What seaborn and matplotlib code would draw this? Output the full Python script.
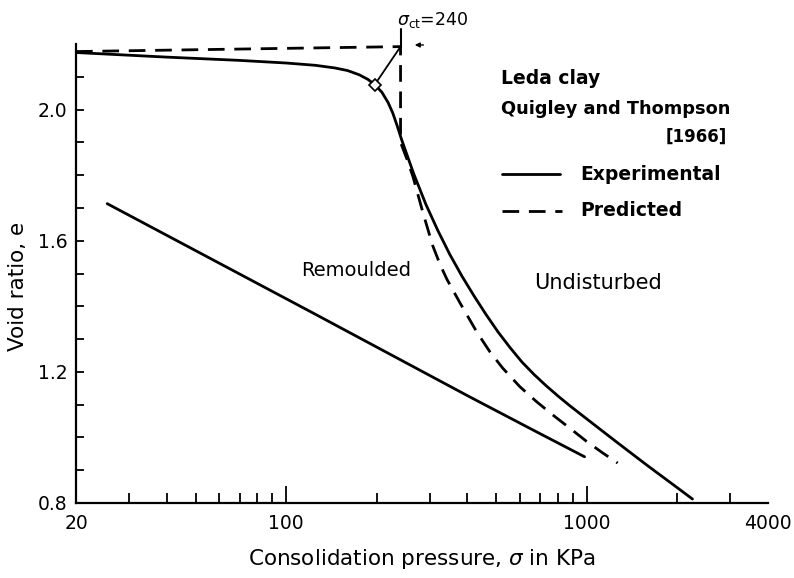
import matplotlib
matplotlib.use("Agg")
import matplotlib.pyplot as plt
import seaborn as sns
import pandas as pd

# ---- data ----
undisturbed_sigma = [20, 40, 70, 100, 125, 145, 160, 175, 187, 197, 208, 218, 226, 234,
                     242, 265, 291, 319, 350, 384, 421, 461, 506, 555, 608, 667, 731,
                     802, 879, 1000, 1259, 1585, 1995, 2244]
undisturbed_e = [2.174, 2.160, 2.150, 2.142, 2.135, 2.127, 2.119, 2.106, 2.092, 2.076,
                 2.053, 2.022, 1.990, 1.950, 1.908, 1.806, 1.712, 1.632, 1.558, 1.492,
                 1.432, 1.376, 1.322, 1.274, 1.230, 1.192, 1.158, 1.126, 1.096, 1.056,
                 0.985, 0.915, 0.847, 0.812]

predicted_sigma = [20, 240, 240, 253, 264, 285, 307, 325, 342, 378, 430, 475, 524,
                   598, 680, 769, 875, 997, 1127, 1265]
predicted_e = [2.177, 2.192, 1.90, 1.845, 1.795, 1.685, 1.585, 1.527, 1.483, 1.411,
               1.322, 1.262, 1.212, 1.155, 1.109, 1.069, 1.029, 0.988, 0.953, 0.922]

remoulded_sigma = [25.4, 122.5, 407, 680, 982]
remoulded_e = [1.713, 1.380, 1.124, 1.017, 0.941]

sigma_ct = 240
normal_sigma = [197, 240]
normal_e = [2.076, 2.192]

x_tick_values = [20, 100, 1000, 4000]
x_tick_labels = ["20", "100", "1000", "4000"]
x_minor = [30, 40, 50, 60, 70, 80, 90, 200, 300, 400, 500, 600, 700, 800, 900, 2000, 3000]
y_tick_values = [0.8, 1.2, 1.6, 2.0]
y_tick_labels = ["0.8", "1.2", "1.6", "2.0"]
y_minor = [0.9, 1.0, 1.1, 1.3, 1.4, 1.5, 1.7, 1.8, 1.9, 2.1]

sns.set_style("ticks")
plt.rcParams['font.family'] = ['DejaVu Sans']
for k in ("text.color", "axes.labelcolor", "xtick.color", "ytick.color", "axes.edgecolor"):
    plt.rcParams[k] = "black"

fig = plt.figure(figsize=(7.94, 5.78), dpi=100)
ax = fig.add_axes([76/794, 1 - 503/578, (768 - 76)/794, (503 - 44)/578])

df_u = pd.DataFrame({"sigma": undisturbed_sigma, "e": undisturbed_e})
df_p = pd.DataFrame({"sigma": predicted_sigma, "e": predicted_e})
df_r = pd.DataFrame({"sigma": remoulded_sigma, "e": remoulded_e})

sns.lineplot(data=df_u, x="sigma", y="e", ax=ax, color="black", lw=2.0,
             sort=False, estimator=None)
sns.lineplot(data=df_p, x="sigma", y="e", ax=ax, color="black", lw=2.0,
             sort=False, estimator=None, linestyle=(0, (6, 3.5)))
sns.lineplot(data=df_r, x="sigma", y="e", ax=ax, color="black", lw=2.0,
             sort=False, estimator=None)

# normal from the curve to the yield point
ax.plot(normal_sigma, normal_e, color="black", lw=1.3)
ax.plot([normal_sigma[0]], [normal_e[0]], marker="D", ms=6, mfc="white",
        mec="black", mew=1.2)
# leader from label to yield point
ax.plot([sigma_ct, sigma_ct], [2.245, 2.192], color="black", lw=1.5, clip_on=False)

ax.set_xscale("log")
ax.set_xlim(20, 4000)
ax.set_ylim(0.8, 2.2)

ax.set_xticks(x_tick_values)
ax.set_xticklabels(x_tick_labels)
ax.set_xticks(x_minor, minor=True)
ax.set_xticklabels([], minor=True)
ax.set_yticks(y_tick_values)
ax.set_yticklabels(y_tick_labels)
ax.set_yticks(y_minor, minor=True)

ax.tick_params(axis="x", which="major", direction="in", length=12, width=1.3,
               labelsize=13.5, pad=8)
ax.tick_params(axis="x", which="minor", direction="in", length=7, width=1.3)
ax.tick_params(axis="y", which="both", direction="in", length=6, width=1.3,
               labelsize=13.5, pad=6)
for t in (ax.xaxis.get_major_ticks()[0], ax.xaxis.get_major_ticks()[-1]):
    t.tick1line.set_visible(False)

sns.despine(ax=ax)
for s in ("left", "bottom"):
    ax.spines[s].set_linewidth(1.6)

ax.set_xlabel("Consolidation pressure, $\\sigma$ in KPa", fontsize=15.5, labelpad=10)
ax.set_ylabel("Void ratio, e", fontsize=15.5)
ax.yaxis.set_label_coords((28 - 76) / 692, (503 - 286) / 459)

# annotations
ax.text(233, 2.243, r"$\sigma_{\rm ct}$=240", fontsize=12.5, ha="left", va="bottom",
        clip_on=False)
ax.annotate("", xy=(262, 2.197), xytext=(292, 2.197),
            arrowprops=dict(arrowstyle="-|>", color="black", lw=1.0,
                            mutation_scale=7), annotation_clip=False)

def ax_xy(px, py):
    return (px - 76) / 692, (503 - py) / 459

tx = ax.transAxes
ax.text(*ax_xy(501, 78), "Leda clay", transform=tx, fontsize=13.5,
        ha="left", va="center", fontweight="bold")
ax.text(*ax_xy(501, 109), "Quigley and Thompson", transform=tx,
        fontsize=12.8, ha="left", va="center", fontweight="bold")
ax.text(*ax_xy(727, 137), "[1966]", transform=tx, fontsize=12,
        ha="right", va="center", fontweight="bold")
x0, y0 = ax_xy(502, 174)
x1, _ = ax_xy(560, 174)
ax.plot([x0, x1], [y0, y0], transform=tx, color="black", lw=2.0)
x0, y0 = ax_xy(502, 211)
x1, _ = ax_xy(562, 211)
ax.plot([x0, x1], [y0, y0], transform=tx, color="black", lw=2.0,
        linestyle=(0, (6, 3.5)))
ax.text(*ax_xy(580, 175), "Experimental", transform=tx,
        fontsize=13.5, ha="left", va="center", fontweight="bold")
ax.text(*ax_xy(580, 210), "Predicted", transform=tx,
        fontsize=13.5, ha="left", va="center", fontweight="bold")
ax.text(*ax_xy(356, 270), "Remoulded", transform=tx,
        fontsize=14, ha="center", va="center")
ax.text(*ax_xy(598, 283), "Undisturbed", transform=tx,
        fontsize=15, ha="center", va="center")

fig.savefig("out.png", dpi=100)
